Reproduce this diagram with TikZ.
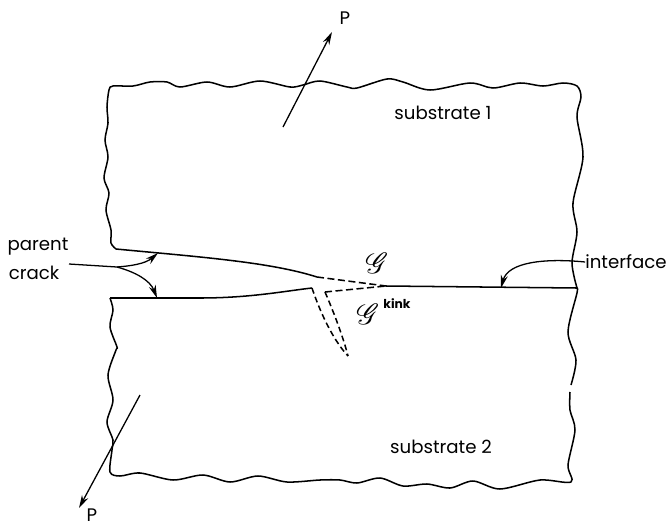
\documentclass[tikz,border=0pt]{standalone}
\usepackage{mathrsfs}
\usepackage{fontspec}
\setmainfont{Poppins}
\usetikzlibrary{arrows.meta,positioning}
\tikzstyle{outline} = [line width=1.3pt,line join=round]
\tikzstyle{arrow} = [line width=1.1pt,-{Stealth[length=11pt,width=6pt]}]
\tikzstyle{label} = [inner sep=0pt,font=\fontsize{15.5}{18}\selectfont]
\begin{document}
\begin{tikzpicture}[x=0.03cm,y=-0.03cm]
	\useasboundingbox (0,0) rectangle (668,527);
	% crack
	\coordinate (Ctop) at (116,249);
	\coordinate (Ctip1) at (317,277);
	\coordinate (Ctip2) at (312,288);
	\coordinate (Cback) at (325,292);
	\coordinate (Kink) at (348,356);
	\coordinate (Front) at (386,286);
	\coordinate (Cbot) at (110,298);
	\coordinate (Fork) at (117,267);
	\coordinate (Lead) at (69,264);
	\coordinate (Hit1) at (158,253);
	\coordinate (Hit2) at (157,298);
	\coordinate (Hit3) at (501,288);
	\coordinate (Edge) at (577,288);
	% loads
	\coordinate (Pa1) at (283,127);
	\coordinate (Pb1) at (332,32);
	\coordinate (Pa2) at (140,395);
	\coordinate (Pb2) at (79,508);
	% substrate 1
	\draw[outline] plot[smooth] coordinates {(Ctop) (111,243) (111,230) (106,210) (109,193) (104,178) (108,157) (105,140) (108,123) (107,107) (109,90) (113,86) (133,86) (150,82) (167,82) (180,87) (207,82) (230,87) (260,81) (290,87) (303,85) (320,81) (347,87) (357,88) (387,79) (403,82) (430,90) (470,83) (493,88) (520,83) (543,86) (563,83) (577,86) (581,97) (577,117) (583,157) (573,203) (577,232) (572,263) (Edge)};
	% substrate 2
	\draw[outline] plot[smooth] coordinates {(Edge) (577,293) (568,332) (576,360) (571,385)};
	\draw[outline] plot[smooth] coordinates {(570,392) (570,410) (575,430) (568,465) (571,482) (540,480) (500,489) (473,481) (450,488) (427,484) (403,486) (380,478) (357,483) (340,480) (320,480) (287,482) (258,476) (230,482) (203,475) (173,480) (140,473) (120,476) (110,472) (112,450) (113,440) (107,422) (113,400) (108,375) (116,350) (117,347) (110,327) (113,310) (Cbot)};
	% crack faces
	\draw[outline] (Ctop) .. controls (200,257) and (270,262) .. (Ctip1);
	\draw[outline] (Cbot) -- (200,298) .. controls (250,298) and (285,291) .. (Ctip2);
	\draw[outline] (Front) -- (Edge);
	\draw[outline,dashed,dash pattern=on 6pt off 3pt] (Ctip1) -- (Front);
	\draw[outline,dashed,dash pattern=on 6pt off 3pt] (Cback) -- (Front);
	\draw[outline,dashed,dash pattern=on 5pt off 3pt] (Ctip2) .. controls (320,312) and (333,340) .. (Kink);
	\draw[outline,dashed,dash pattern=on 5pt off 3pt] (Cback) .. controls (335,315) and (344,340) .. (Kink);
	% labels
	\node[label,name=P1] at (345,18) {P};
	\node[label,name=P2] at (92,515) {P};
	\node[label,name=sub1] at (443,113) {substrate 1};
	\node[label,name=sub2] at (441,447) {substrate 2};
	\node[label,name=parent] at (38,247) {parent};
	\node[label,name=crack] at (34,273) {crack};
	\node[label,name=interface] at (626,262) {interface};
	\node[inner sep=0pt,name=G1] at (377,263) {\fontsize{27}{30}\selectfont$\mathscr{G}$};
	\node[inner sep=0pt,name=G2] at (368,314) {\fontsize{27}{30}\selectfont$\mathscr{G}$};
	\node[inner sep=0pt,name=kink,font=\fontsize{10.5}{12}\selectfont\bfseries] at (397,304) {kink};
	% arrows
	\draw[arrow] (Pa1) -- (Pb1);
	\draw[arrow] (Pa2) -- (Pb2);
	\draw[line width=1.1pt] (Lead) -- (Fork);
	\draw[arrow] (Fork) .. controls (130,266) and (145,264) .. (Hit1);
	\draw[arrow] (Fork) .. controls (135,272) and (150,280) .. (Hit2);
	\draw[arrow] (interface.west) .. controls (545,258) and (508,262) .. (Hit3);
\end{tikzpicture}
\end{document}
